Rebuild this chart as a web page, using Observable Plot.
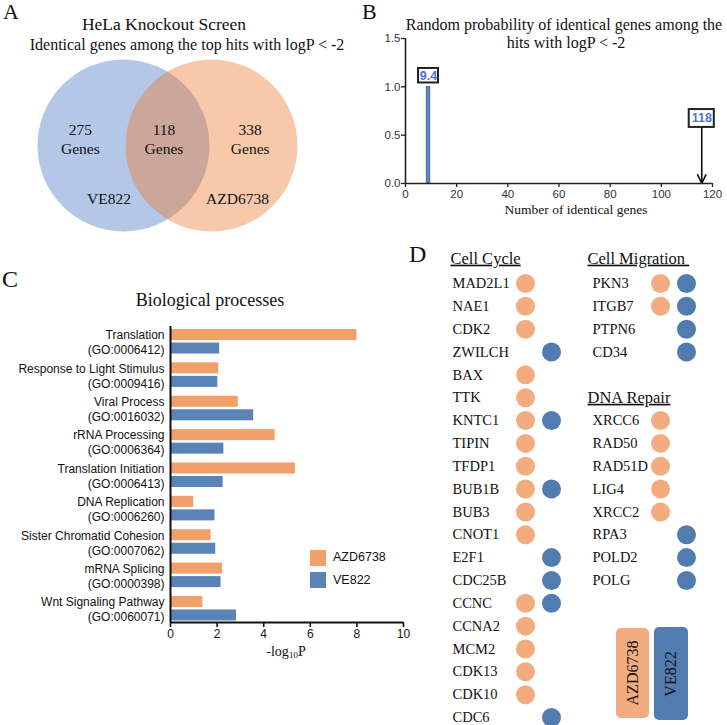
<!DOCTYPE html>
<html><head><meta charset="utf-8">
<script src="https://cdn.jsdelivr.net/npm/d3@7"></script>
<script src="https://cdn.jsdelivr.net/npm/@observablehq/plot@0.6"></script>
<style>
body{margin:0;background:#fff;}
#fig{position:relative;width:727px;height:725px;overflow:hidden;font-family:"Liberation Serif","Times New Roman",serif;color:#111;}
.t{position:absolute;white-space:nowrap;line-height:1;}
.panel{position:absolute;}
.panel svg{overflow:visible;}
</style></head><body><div id="fig"></div>
<script>
// ---------- DATA ----------
// A: Venn
const vennSets = ["VE822", "AZD6738"];
const vennRegions = ["VE822 only", "Both", "AZD6738 only"];
const vennCounts = [275, 118, 338];

// B: random overlap distribution
const randomOverlap = [9];
const randomProbability = [1.0];
const expectedOverlap = 9.4;
const observedOverlap = 118;
const xTicksB = [0, 20, 40, 60, 80, 100, 120];
const yTicksB = [0, 0.5, 1.0, 1.5];

// C: biological processes
const processes = ["Translation", "Response to Light Stimulus", "Viral Process", "rRNA Processing",
  "Translation Initiation", "DNA Replication", "Sister Chromatid Cohesion", "mRNA Splicing", "Wnt Signaling Pathway"];
const goIds = ["GO:0006412", "GO:0009416", "GO:0016032", "GO:0006364", "GO:0006413",
  "GO:0006260", "GO:0007062", "GO:0000398", "GO:0060071"];
const azdLogP = [8.0, 2.07, 2.91, 4.49, 5.36, 1.0, 1.74, 2.24, 1.39];
const veLogP = [2.11, 2.03, 3.57, 2.29, 2.26, 1.91, 1.94, 2.17, 2.83];
const xTicksC = [0, 2, 4, 6, 8, 10];
const seriesNames = ["AZD6738", "VE822"];

// D: gene hits per category
const cellCycleGenes = ["MAD2L1","NAE1","CDK2","ZWILCH","BAX","TTK","KNTC1","TIPIN","TFDP1","BUB1B",
  "BUB3","CNOT1","E2F1","CDC25B","CCNC","CCNA2","MCM2","CDK13","CDK10","CDC6"];
const cellCycleAZD = [1,1,1,0,1,1,1,1,1,1, 1,1,0,0,1,1,1,1,1,0];
const cellCycleVE  = [0,0,0,1,0,0,1,0,0,1, 0,0,1,1,1,0,0,0,0,1];
const migrationGenes = ["PKN3","ITGB7","PTPN6","CD34"];
const migrationAZD = [1,1,0,0];
const migrationVE  = [1,1,1,1];
const repairGenes = ["XRCC6","RAD50","RAD51D","LIG4","XRCC2","RPA3","POLD2","POLG"];
const repairAZD = [1,1,1,1,1,0,0,0];
const repairVE  = [0,0,0,0,0,1,1,1];

// ---------- STYLE ----------
const ORANGE_C = "#F0A068", BLUE_C = "#5A83B8";
const ORANGE_D = "#F3AC80", BLUE_D = "#527CAF";
const SERIF = "Liberation Serif, Times New Roman, serif";
const SANS = "Liberation Sans, Arial, Helvetica, sans-serif";

const fig = document.getElementById("fig");
function txt(s, {x, base, size = 16, family = SERIF, anchor = "middle", color = "#111", weight = "normal", html = false}) {
  const d = document.createElement("div");
  d.className = "t";
  if (html) d.innerHTML = s; else d.textContent = s;
  const k = family === SANS ? 0.8465 : 0.8375;
  d.style.cssText += `font-size:${size}px;font-family:${family};color:${color};font-weight:${weight};top:${base - k*size}px;left:${x}px;`;
  if (anchor === "middle") d.style.transform = "translateX(-50%)";
  else if (anchor === "end") d.style.transform = "translateX(-100%)";
  fig.appendChild(d);
  return d;
}
function place(svg, left, top) {
  const w = document.createElement("div");
  w.className = "panel";
  w.style.left = left + "px"; w.style.top = top + "px";
  w.appendChild(svg);
  fig.appendChild(w);
}

// ---------- PANEL A ----------
{
  const circles = vennSets.map((s, i) => ({set: s, pos: i}));
  const regions = vennRegions.map((r, i) => ({region: r, count: vennCounts[i], pos: [-0.49, 0.46, 1.44][i]}));
  const setLabels = vennSets.map((s, i) => ({set: s, pos: [-0.165, 1.295][i]}));
  const svg = Plot.plot({
    width: 360, height: 240,
    marginLeft: 123, marginRight: 149, marginTop: 100, marginBottom: 50,
    x: {domain: [0, 1], axis: null},
    y: {domain: [0, 1], axis: null},
    style: {fontFamily: SERIF, background: "transparent"},
    marks: [
      Plot.dot(circles, {x: "pos", y: () => 0.5, r: 86, fill: d => d.set === "VE822" ? "#4472C4" : "#ED7D31",
        fillOpacity: d => d.set === "VE822" ? 0.4 : 0.42, stroke: null}),
      Plot.text(regions, {x: "pos", y: () => 0.5, dy: -7.5, text: d => d.count + "\nGenes", fontSize: 15.5, lineHeight: 1.25, fill: "#111", fontFamily: SERIF}),
      Plot.text(setLabels, {x: "pos", y: () => 0.5, dy: 54, text: "set", fontSize: 15.5, fill: "#111", fontFamily: SERIF})
    ]
  });
  place(svg, 0, 0);
  txt("A", {x: 3, base: 19, size: 22, anchor: "start"});
  txt("HeLa Knockout Screen", {x: 164, base: 30.5, size: 17.5});
  txt("Identical genes among the top hits with logP < -2", {x: 187, base: 50, size: 16});
}

// ---------- PANEL B ----------
{
  const bars = randomOverlap.map((v, i) => ({x: v, p: randomProbability[i]}));
  const half = 0.7;
  const labels = [
    {x: randomOverlap[0], y: randomProbability[0], text: String(expectedOverlap), hw: 3.9, y1: 1.04, y2: 1.19},
    {x: observedOverlap - 2.2, y: 0.58, text: String(observedOverlap), hw: 4.9, y1: 0.58, y2: 0.765}
  ];
  const svg = Plot.plot({
    width: 367, height: 230,
    marginLeft: 45, marginRight: 15, marginTop: 38, marginBottom: 47,
    x: {domain: [0, 120]},
    y: {domain: [0, 1.5]},
    style: {fontFamily: SANS, fontSize: "11.5px", color: "#333", background: "transparent"},
    marks: [
      Plot.axisX({ticks: xTicksB, tickSize: 4, tickPadding: 2, label: null, tickFormat: d => d, stroke: "#222", strokeWidth: 1.3}),
      Plot.axisY({ticks: yTicksB, tickSize: 4, tickPadding: 1, label: null, tickFormat: d => d.toFixed(1), stroke: "#222", strokeWidth: 1.3}),
      Plot.rectY(bars, {x1: d => d.x - half, x2: d => d.x + half, y1: 0, y2: "p", fill: "#5B87C0", stroke: "#3E5F8E", strokeWidth: 0.8}),
      Plot.arrow([labels[1]], {x1: d => observedOverlap - 2.2, x2: d => observedOverlap - 2.2, y1: d => d.y2, y2: 0, stroke: "#111", strokeWidth: 1.6, headLength: 9, headAngle: 50}),
      Plot.ruleX([0], {stroke: "#222", strokeWidth: 1.6}),
      Plot.ruleY([0], {stroke: "#222", strokeWidth: 1.6}),
      Plot.rect(labels, {x1: d => d.x - d.hw, x2: d => d.x + d.hw, y1: "y1", y2: "y2", fill: "white", stroke: "#222", strokeWidth: 2}),
      Plot.text(labels, {x: "x", y: d => (d.y1 + d.y2) / 2, text: "text", fill: "#4E6FE0", fontWeight: "bold", fontSize: 12.5, fontFamily: SANS})
    ]
  });
  place(svg, 360, 0);
  txt("B", {x: 362, base: 19, size: 22, anchor: "start"});
  txt("Random probability of identical genes among the", {x: 564, base: 30, size: 16});
  txt("hits with logP < -2", {x: 566, base: 48, size: 16});
  txt("Number of identical genes", {x: 576, base: 214, size: 13.5});
}

// ---------- PANEL C ----------
{
  const yTop = -0.45, yBot = 8.42;
  const off = {AZD6738: -0.195, VE822: 0.21};
  const th = 0.165;
  const rows = [];
  processes.forEach((p, i) => {
    rows.push({process: p, series: "AZD6738", i, value: azdLogP[i]});
    rows.push({process: p, series: "VE822", i, value: veLogP[i]});
  });
  const cats = processes.map((p, i) => ({i, label: p + "\n(" + goIds[i] + ")"}));
  const svg = Plot.plot({
    width: 420, height: 350,
    marginLeft: 170, marginRight: 17, marginTop: 10, marginBottom: 44,
    x: {domain: [0, 10]},
    y: {domain: [yBot, yTop], axis: null},
    color: {domain: seriesNames, range: [ORANGE_C, BLUE_C]},
    style: {fontFamily: SANS, fontSize: "12px", color: "#111", background: "transparent"},
    marks: [
      Plot.rectX(rows, {x1: 0, x2: "value", y1: d => d.i + off[d.series] - th, y2: d => d.i + off[d.series] + th, fill: "series"}),
      Plot.text(cats, {x: 0, y: "i", text: "label", textAnchor: "end", dx: -6, dy: 0.5, lineHeight: 1.25, fontSize: 12, fontFamily: SANS, fill: "#111"}),
      Plot.axisX({ticks: xTicksC, tickSize: 5, tickPadding: 2, label: null, stroke: "#111", strokeWidth: 1.6}),
      Plot.ruleX([0], {stroke: "#111", strokeWidth: 2}),
      Plot.ruleY([yBot], {stroke: "#111", strokeWidth: 2})
    ]
  });
  place(svg, 0, 316);
  txt("C", {x: 2, base: 287, size: 24, anchor: "start"});
  txt("Biological processes", {x: 210, base: 306, size: 18});
  txt("-log<sub style='font-size:9px;vertical-align:-2px'>10</sub>P", {x: 286, base: 657, size: 14, html: true});
  // legend
  seriesNames.forEach((s, k) => {
    const sw = document.createElement("div");
    sw.style.cssText = `position:absolute;left:310px;top:${550 + k*22}px;width:16px;height:16px;background:${k ? BLUE_C : ORANGE_C};`;
    fig.appendChild(sw);
    txt(s, {x: 333, base: 562 + k*23, size: 12.5, family: SANS, anchor: "start"});
  });
}

// ---------- PANEL D ----------
{
  const genes = [];
  cellCycleGenes.forEach((g, r) => genes.push({gene: g, col: 0, row: r, azd: cellCycleAZD[r], ve: cellCycleVE[r]}));
  migrationGenes.forEach((g, r) => genes.push({gene: g, col: 1, row: r, azd: migrationAZD[r], ve: migrationVE[r]}));
  repairGenes.forEach((g, r) => genes.push({gene: g, col: 1, row: r + 6, azd: repairAZD[r], ve: repairVE[r]}));
  const headers = [
    {text: "Cell Cycle", col: 0, row: -1.1},
    {text: "Cell Migration\u00a0", col: 1, row: -1.1},
    {text: "DNA Repair", col: 1, row: 4.99}
  ];
  const svg = Plot.plot({
    width: 347, height: 485,
    marginLeft: 72, marginRight: 135, marginTop: 43, marginBottom: 8,
    x: {domain: [0, 1], axis: null},
    y: {domain: [0, 19], reverse: true, axis: null},
    style: {fontFamily: SERIF, background: "transparent"},
    marks: [
      Plot.text(genes, {x: "col", y: "row", text: "gene", textAnchor: "start", fontSize: 14.5, fontFamily: SERIF, fill: "#111"}),
      Plot.text(headers.filter(h => h.col === 0), {x: "col", y: "row", text: "text", textAnchor: "start", dx: -2, fontSize: 16.5, fontFamily: SERIF, fill: "#111"}),
      Plot.text(headers.filter(h => h.col === 1), {x: "col", y: "row", text: "text", textAnchor: "start", dx: -5, fontSize: 16.5, fontFamily: SERIF, fill: "#111"}),
      Plot.dot(genes.filter(d => d.col === 0 && d.azd), {x: "col", y: "row", dx: 73, r: 9.5, fill: ORANGE_D}),
      Plot.dot(genes.filter(d => d.col === 0 && d.ve), {x: "col", y: "row", dx: 99, r: 9.5, fill: BLUE_D}),
      Plot.dot(genes.filter(d => d.col === 1 && d.azd), {x: "col", y: "row", dx: 68, r: 9.5, fill: ORANGE_D}),
      Plot.dot(genes.filter(d => d.col === 1 && d.ve), {x: "col", y: "row", dx: 94, r: 9.5, fill: BLUE_D})
    ]
  });
  const hs = new Set(headers.map(h => h.text));
  svg.querySelectorAll("text").forEach(t => { if (hs.has(t.textContent)) t.setAttribute("text-decoration", "underline"); });
  place(svg, 380, 240);
  txt("D", {x: 409, base: 262, size: 24, anchor: "start"});
  // legend boxes
  seriesNames.forEach((s, k) => {
    const b = document.createElement("div");
    const L = k ? 654 : 616, T = k ? 627 : 628, W = k ? 34 : 33, H = k ? 93 : 90;
    b.style.cssText = `position:absolute;left:${L}px;top:${T}px;width:${W}px;height:${H}px;border-radius:5px;background:${k ? BLUE_D : ORANGE_D};`;
    const s2 = document.createElement("div");
    s2.textContent = s;
    s2.style.cssText = `position:absolute;left:50%;top:50%;transform:translate(-50%,-50%) rotate(-90deg);font-family:${SERIF};font-size:16px;color:#111;white-space:nowrap;line-height:1;`;
    b.appendChild(s2);
    fig.appendChild(b);
  });
}
</script></body></html>
